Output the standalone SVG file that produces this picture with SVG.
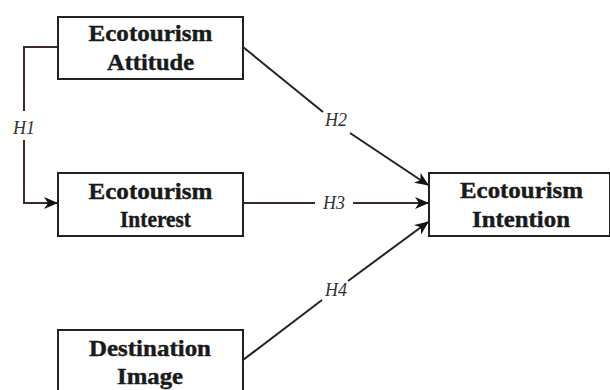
<svg xmlns="http://www.w3.org/2000/svg" width="610" height="390" viewBox="0 0 610 390">
<style>
.box{fill:#fff;stroke:#222;stroke-width:2}
.t{font-family:"Times New Roman","Liberation Serif",Tinos,serif;font-weight:bold;font-size:23px;fill:#1a1a1a;stroke:#1a1a1a;stroke-width:0.4;text-anchor:middle}
.h{font-family:"Times New Roman","Liberation Serif",Tinos,serif;font-style:italic;font-size:18px;fill:#333;text-anchor:middle}
.c{fill:none;stroke:#222;stroke-width:2}
.br{stroke:#3b2a26}
</style>
<defs>
<marker id="ar" viewBox="0 0 14 12" refX="13" refY="6" markerWidth="14" markerHeight="12" markerUnits="userSpaceOnUse" orient="auto">
<path d="M0,0 L14,6 L0,12 L4,6 Z" fill="#111"/>
</marker>
</defs>
<rect width="610" height="390" fill="#fff"/>
<g id="connectors">
<path class="c br" d="M58,47 H24 V111"/>
<path class="c br" d="M24,140 V203 H57" marker-end="url(#ar)"/>
<text class="h" x="24" y="134">H1</text>
<path class="c" d="M243,47 L323,112"/>
<path class="c" d="M350,133 L428,185" marker-end="url(#ar)"/>
<text class="h" x="336" y="126">H2</text>
<path class="c br" d="M243,203 H315"/>
<path class="c br" d="M353,203 H428" marker-end="url(#ar)"/>
<text class="h" x="334" y="209">H3</text>
<path class="c" d="M243,360 L322,300"/>
<path class="c" d="M348,281 L428,222" marker-end="url(#ar)"/>
<text class="h" x="336" y="296">H4</text>
</g>
<g id="attitude">
<rect class="box" x="58" y="17" width="185" height="62"/>
<text class="t" x="150.5" y="41" textLength="124" lengthAdjust="spacingAndGlyphs">Ecotourism</text>
<text class="t" x="150.5" y="70" textLength="87" lengthAdjust="spacingAndGlyphs">Attitude</text>
</g>
<g id="interest">
<rect class="box" x="58" y="173" width="185" height="63"/>
<text class="t" x="150.5" y="199" textLength="124" lengthAdjust="spacingAndGlyphs">Ecotourism</text>
<text class="t" x="155.5" y="227" textLength="71" lengthAdjust="spacingAndGlyphs">Interest</text>
</g>
<g id="intention">
<rect class="box" x="429" y="173" width="181" height="63"/>
<text class="t" x="521.5" y="198" textLength="123" lengthAdjust="spacingAndGlyphs">Ecotourism</text>
<text class="t" x="521" y="227" textLength="98" lengthAdjust="spacingAndGlyphs">Intention</text>
</g>
<g id="destination">
<rect class="box" x="58" y="330" width="185" height="70"/>
<text class="t" x="150" y="356" textLength="122" lengthAdjust="spacingAndGlyphs">Destination</text>
<text class="t" x="150" y="384" textLength="66" lengthAdjust="spacingAndGlyphs">Image</text>
</g>
</svg>
